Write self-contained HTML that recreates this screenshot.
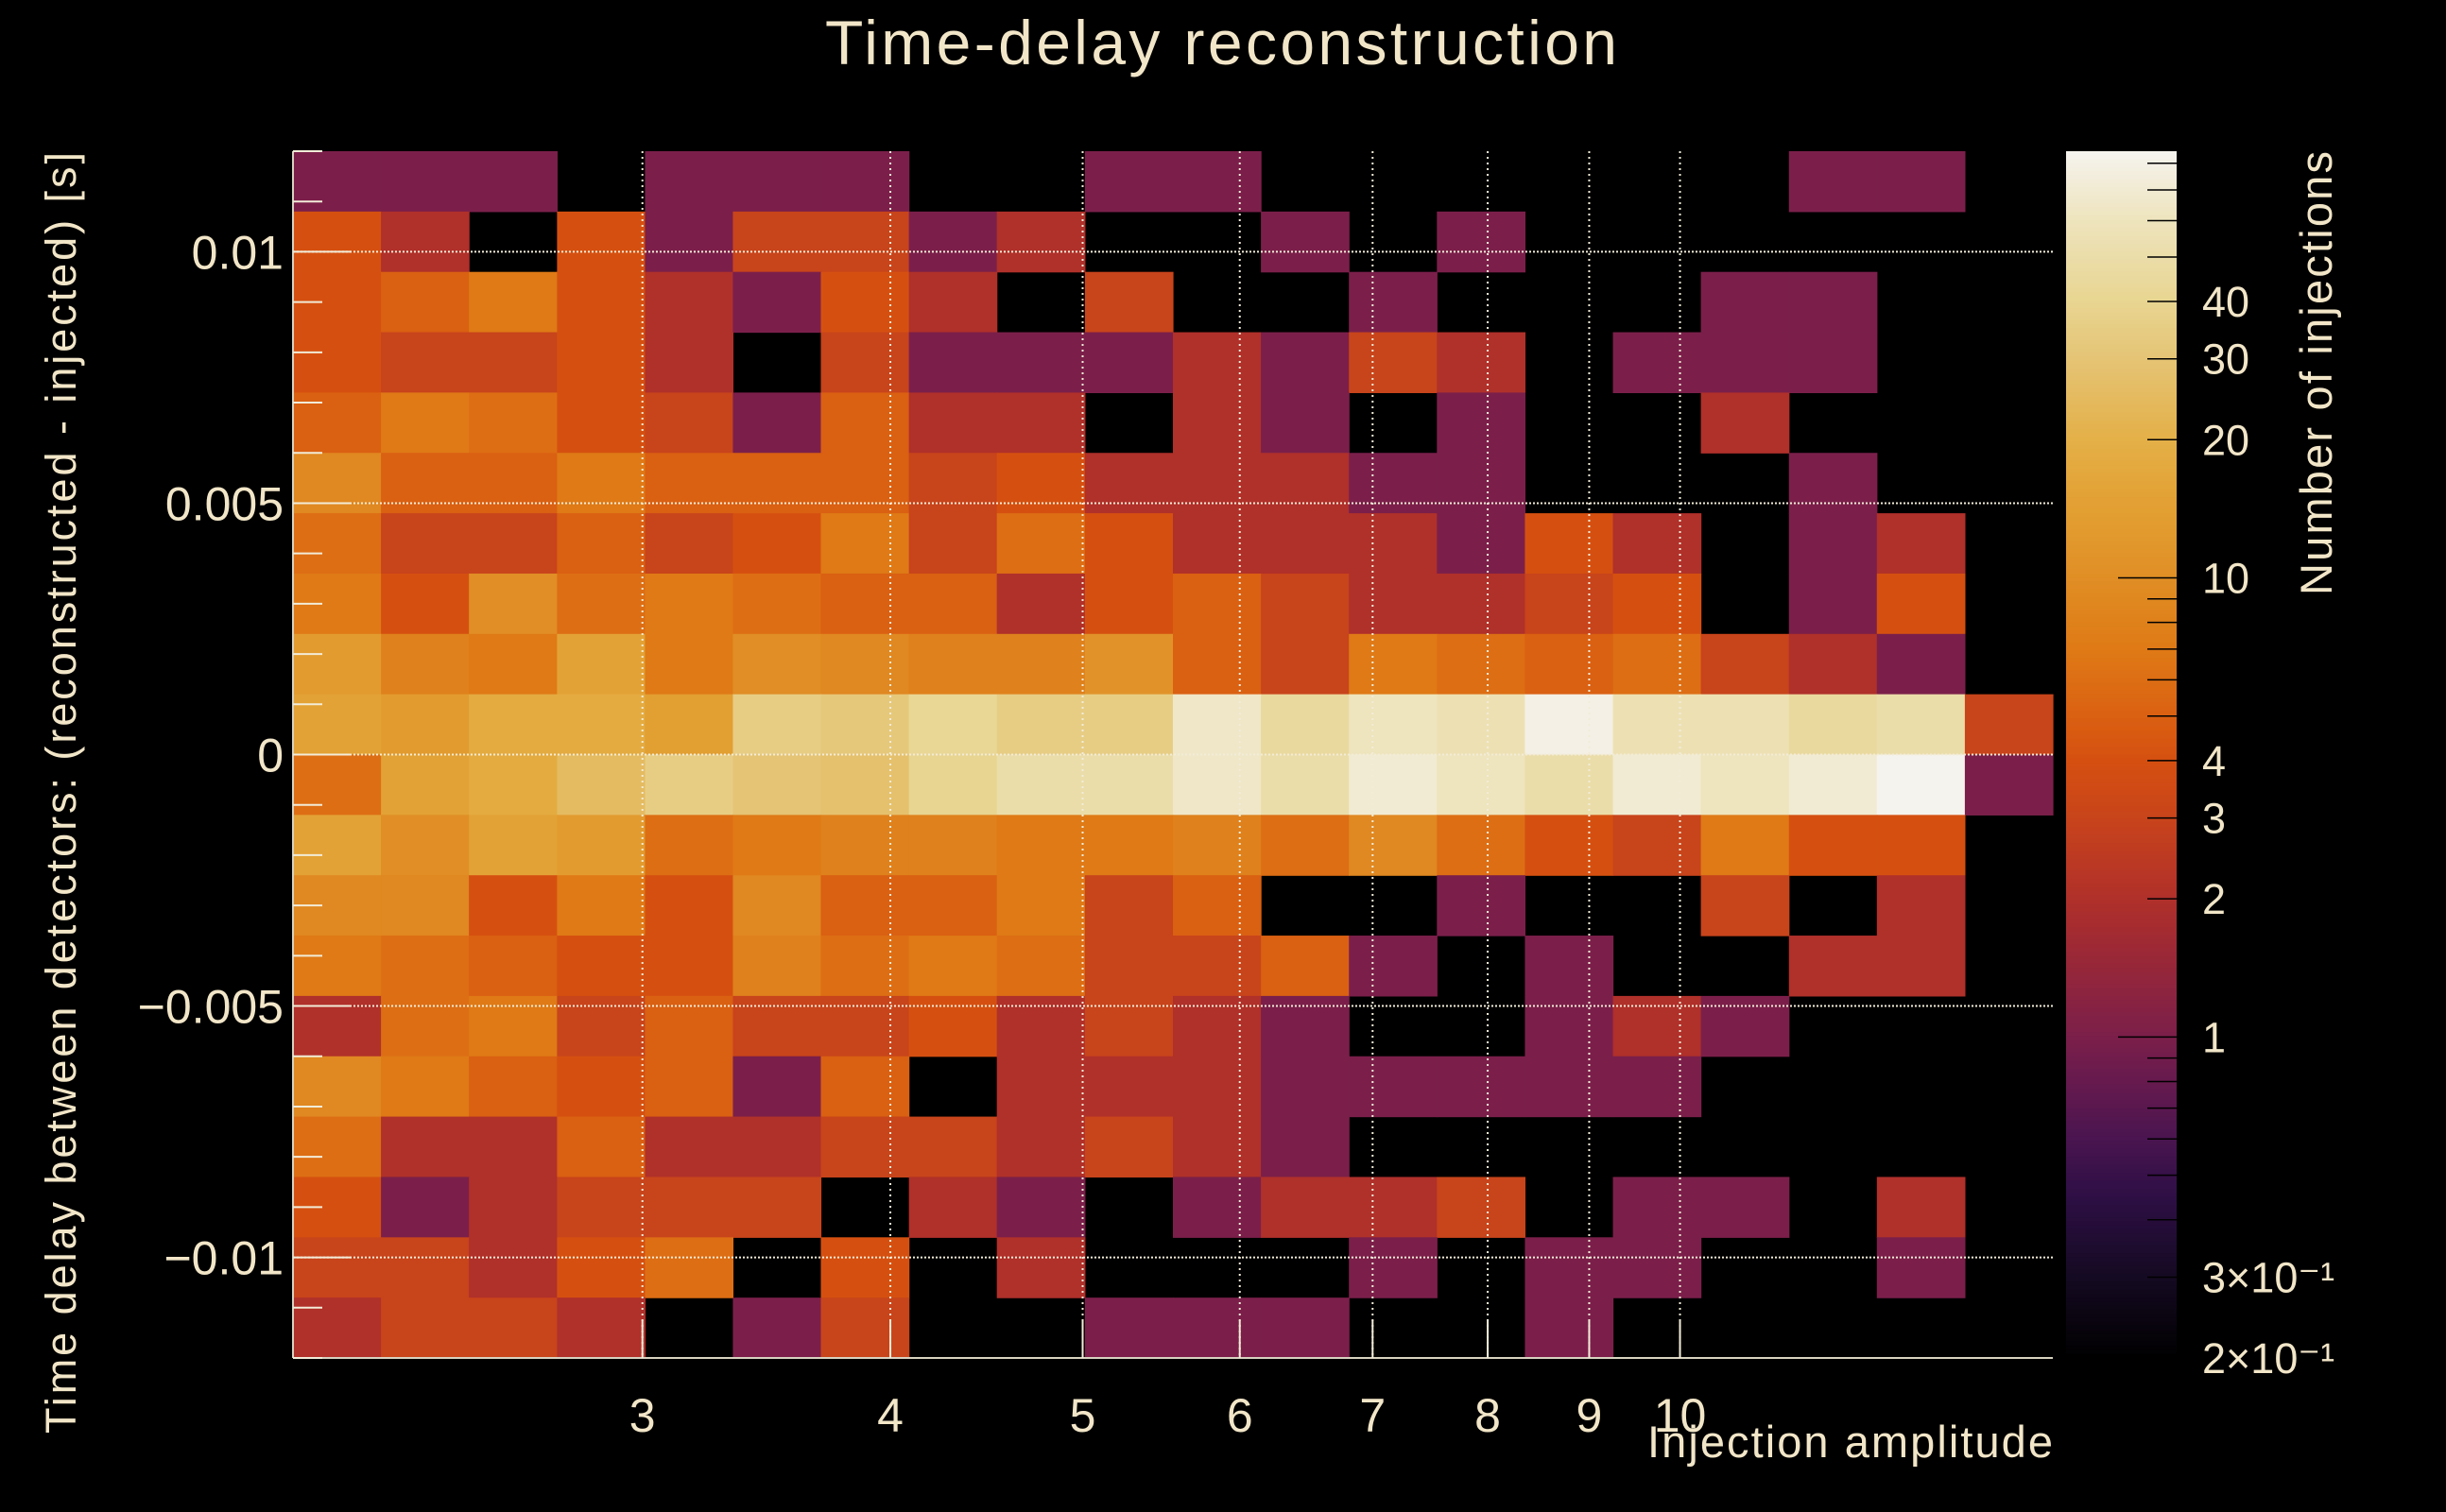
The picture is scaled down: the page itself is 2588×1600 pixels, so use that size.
<!DOCTYPE html>
<html>
<head>
<meta charset="utf-8">
<style>
  html, body { margin: 0; padding: 0; background: #000; }
  svg { display: block; }
  text { font-family: "Liberation Sans", sans-serif; fill: #f2e6c8; }
</style>
</head>
<body>
<svg id="chart" width="2588" height="1600" viewBox="0 0 2588 1600">
  <rect x="0" y="0" width="2588" height="1600" fill="#000"/>
  <text x="1292" y="68" font-size="66" text-anchor="middle" textLength="838">Time-delay reconstruction</text>
  <g id="cells"></g>
  <g id="grid"></g>
  <g id="axes"></g>
  <g id="colorbar"></g>
  <text transform="translate(80,839) rotate(-90)" font-size="45" text-anchor="middle" textLength="1356">Time delay between detectors: (reconstructed - injected) [s]</text>
  <text x="2172" y="1542" font-size="47" text-anchor="end" textLength="429">Injection amplitude</text>
  <text transform="translate(2467,630) rotate(-90)" font-size="47" text-anchor="start" textLength="470">Number of injections</text>
</svg>
<script>
// ---- data ----
const ampEdges = [2.000, 2.215, 2.453, 2.717, 3.009, 3.332, 3.690, 4.087, 4.526, 5.013, 5.552, 6.149, 6.810, 7.542, 8.353, 9.251, 10.245, 11.347, 12.566, 13.917, 15.413];
const delayEdges = [0.012, 0.0108, 0.0096, 0.0084, 0.0072, 0.006, 0.0048, 0.0036, 0.0024, 0.0012, 0, -0.0012, -0.0024, -0.0036, -0.0048, -0.006, -0.0072, -0.0084, -0.0096, -0.0108, -0.012];
const row0 = [1,1,1,0,1,1,1,0,0,1,1,0,0,0,0,0,0,1,1,0];
const row1 = [4,2,0,4,1,3,3,1,2,0,0,1,0,1,0,0,0,0,0,0];
const row2 = [4,5,7,4,2,1,4,2,0,3,0,0,1,0,0,0,1,1,0,0];
const row3 = [4,3,3,4,2,0,3,1,1,1,2,1,3,2,0,1,1,1,0,0];
const row4 = [5,7,6,4,3,1,5,2,2,0,2,1,0,1,0,0,2,0,0,0];
const row5 = [9,5,5,7,5,5,5,3,4,2,2,2,1,1,0,0,0,1,0,0];
const row6 = [6,3,3,5,3,4,7,3,6,4,2,2,2,1,4,2,0,1,2,0];
const row7 = [7,4,10,6,7,6,5,5,2,4,5,3,2,2,3,4,0,1,4,0];
const row8 = [13,8,7,15,7,10,9,8,8,11,5,3,7,6,5,6,3,2,1,0];
const row9 = [15,13,18,18,14,35,32,42,35,35,65,45,60,55,80,55,55,45,50,3];
const row10 = [6,15,18,25,35,30,28,40,50,50,65,50,70,60,50,70,60,70,85,1];
const row11 = [15,10,15,13,6,7,8,8,7,7,8,6,9,6,4,3,7,4,4,0];
const row12 = [9,9,4,7,4,9,5,5,7,3,5,0,0,1,0,0,3,0,2,0];
const row13 = [7,6,5,4,4,8,6,7,6,3,3,5,1,0,1,0,0,2,2,0];
const row14 = [2,6,7,3,5,3,3,4,2,3,2,1,0,0,1,2,1,0,0,0];
const row15 = [9,7,5,4,5,1,5,0,2,2,2,1,1,1,1,1,0,0,0,0];
const row16 = [6,2,2,5,2,2,3,3,2,3,2,1,0,0,0,0,0,0,0,0];
const row17 = [4,1,2,3,3,3,0,2,1,0,1,2,2,3,0,1,1,0,2,0];
const row18 = [3,3,2,4,6,0,4,0,2,0,0,0,1,0,1,1,0,0,1,0];
const row19 = [2,3,3,2,0,1,3,0,0,1,1,1,0,0,1,0,0,0,0,0];
const counts = [row0,row1,row2,row3,row4,row5,row6,row7,row8,row9,row10,row11,row12,row13,row14,row15,row16,row17,row18,row19];
const xTickValues = [3,4,5,6,7,8,9,10];
const xTickLabels = ["3","4","5","6","7","8","9","10"];
const yTickValues = [0.01, 0.005, 0, -0.005, -0.01];
const yTickLabels = ["0.01","0.005","0","\u22120.005","\u22120.01"];
const zTickValues = [40,30,20,10,4,3,2,1,0.3,0.2];
const zTickLabels = ["40","30","20","10","4","3","2","1","3\u00d710\u207b\u00b9","2\u00d710\u207b\u00b9"];
const zMin = 0.2, zMax = 85;

// ---- layout ----
const NS = "http://www.w3.org/2000/svg";
const PX0 = 310, PX1 = 2172, PY0 = 160, PY1 = 1437;
const xMinLog = Math.log10(ampEdges[0]), xMaxLog = Math.log10(ampEdges[ampEdges.length-1]);
function xScale(v){ return PX0 + (Math.log10(v) - xMinLog) / (xMaxLog - xMinLog) * (PX1 - PX0); }
function yScale(v){ return PY0 + (0.012 - v) / 0.024 * (PY1 - PY0); }
const CB0 = 2186, CB1 = 2303;
function zScale(v){ return PY0 + (Math.log10(zMax) - Math.log10(v)) / (Math.log10(zMax) - Math.log10(zMin)) * (PY1 - PY0); }

const stops = [[0.2,'#000000'],[0.3,'#150a22'],[0.45,'#2e0f45'],[0.6,'#4a1550'],[0.8,'#661a4e'],[1,'#7b1f4a'],[1.5,'#9a2837'],[2,'#b0302a'],[3,'#c8441b'],[4,'#d55010'],[5,'#da6012'],[7,'#df7a16'],[10,'#e08e25'],[15,'#e3a235'],[20,'#e4b048'],[30,'#e5c475'],[40,'#e8d591'],[60,'#eee4bd'],[85,'#f5f3ee']];
function hex(c){ return [parseInt(c.substr(1,2),16),parseInt(c.substr(3,2),16),parseInt(c.substr(5,2),16)]; }
function colorFor(v){
  v = Math.max(zMin, Math.min(zMax, v));
  const lv = Math.log10(v);
  for (let i = 0; i < stops.length-1; i++){
    const a = Math.log10(stops[i][0]), b = Math.log10(stops[i+1][0]);
    if (lv <= b){
      const t = (lv - a)/(b - a);
      const ca = hex(stops[i][1]), cb = hex(stops[i+1][1]);
      return 'rgb(' + ca.map((c,k)=>Math.round(c + (cb[k]-c)*t)).join(',') + ')';
    }
  }
  return stops[stops.length-1][1];
}
function mk(tag, attrs, parent){
  const el = document.createElementNS(NS, tag);
  for (const k in attrs) el.setAttribute(k, attrs[k]);
  parent.appendChild(el);
  return el;
}

// cells
const gCells = document.getElementById('cells');
for (let r = 0; r < counts.length; r++){
  for (let c = 0; c < counts[r].length; c++){
    const v = counts[r][c];
    if (v <= 0) continue;
    const x0 = xScale(ampEdges[c]), x1 = xScale(ampEdges[c+1]);
    const y0 = yScale(delayEdges[r]), y1 = yScale(delayEdges[r+1]);
    const el = mk('rect', {x: x0.toFixed(2), y: y0.toFixed(2), width: (x1-x0+0.6).toFixed(2), height: (y1-y0+0.6).toFixed(2), fill: colorFor(v)}, gCells);
    
    
  }
}

// grid
const gGrid = document.getElementById('grid');
xTickValues.forEach(v => {
  const x = xScale(v);
  const el = mk('line', {x1: x, x2: x, y1: PY0, y2: PY1, stroke: '#f2ecd8', 'stroke-width': 2, 'stroke-dasharray': '2 4'}, gGrid);
  
  
});
yTickValues.forEach(v => {
  const y = yScale(v);
  const el = mk('line', {x1: PX0, x2: PX1, y1: y, y2: y, stroke: '#f2ecd8', 'stroke-width': 2, 'stroke-dasharray': '2 2'}, gGrid);
  
  
});

// axes
const gAxes = document.getElementById('axes');
let ax = mk('line', {x1: PX0, x2: PX0, y1: PY0, y2: PY1, stroke: '#d8d2c0', 'stroke-width': 2}, gAxes);


ax = mk('line', {x1: PX0, x2: PX1, y1: PY1, y2: PY1, stroke: '#d8d2c0', 'stroke-width': 2}, gAxes);


for (let k = -12; k <= 12; k++){
  const v = k * 0.001, y = yScale(v);
  const len = (k % 5 === 0) ? 62 : 31;
  const t = mk('line', {x1: PX0, x2: PX0+len, y1: y, y2: y, stroke: '#f2ecd8', 'stroke-width': 2}, gAxes);
  
  
}
yTickValues.forEach((v,i) => {
  const t = mk('text', {x: 300, y: yScale(v)+18, 'font-size': 50, 'text-anchor': 'end'}, gAxes);
  t.textContent = yTickLabels[i];
  
  
});
xTickValues.forEach((v,i) => {
  const x = xScale(v);
  const tk = mk('line', {x1: x, x2: x, y1: PY1, y2: PY1-40, stroke: '#f2ecd8', 'stroke-width': 2}, gAxes);
  
  
  const t = mk('text', {x: x, y: 1515, 'font-size': 50, 'text-anchor': 'middle'}, gAxes);
  t.textContent = xTickLabels[i];
  
  
});

// colorbar
const gCb = document.getElementById('colorbar');
const N = 300;
for (let i = 0; i < N; i++){
  const y0 = PY0 + (PY1-PY0)*i/N, y1 = PY0 + (PY1-PY0)*(i+1)/N;
  const lv = Math.log10(zMax) - (Math.log10(zMax)-Math.log10(zMin))*(i+0.5)/N;
  const s = mk('rect', {x: CB0, y: y0.toFixed(2), width: CB1-CB0, height: (y1-y0+0.8).toFixed(2), fill: colorFor(Math.pow(10, lv))}, gCb);
  
  
}
const minorZ = [0.3,0.4,0.5,0.6,0.7,0.8,0.9,2,3,4,5,6,7,8,9,20,30,40,50,60,70,80];
minorZ.forEach(v => {
  const y = zScale(v);
  const t = mk('line', {x1: CB1-31, x2: CB1, y1: y, y2: y, stroke: '#000', 'stroke-width': 1.5}, gCb);
  
  
});
[1,10].forEach(v => {
  const y = zScale(v);
  const t = mk('line', {x1: CB1-62, x2: CB1, y1: y, y2: y, stroke: '#000', 'stroke-width': 1.5}, gCb);
  
  
});
zTickValues.forEach((v,i) => {
  const t = mk('text', {x: 2330, y: zScale(v)+16, 'font-size': 45, 'text-anchor': 'start'}, gCb);
  t.textContent = zTickLabels[i];
  
  
});
</script>
</body>
</html>
